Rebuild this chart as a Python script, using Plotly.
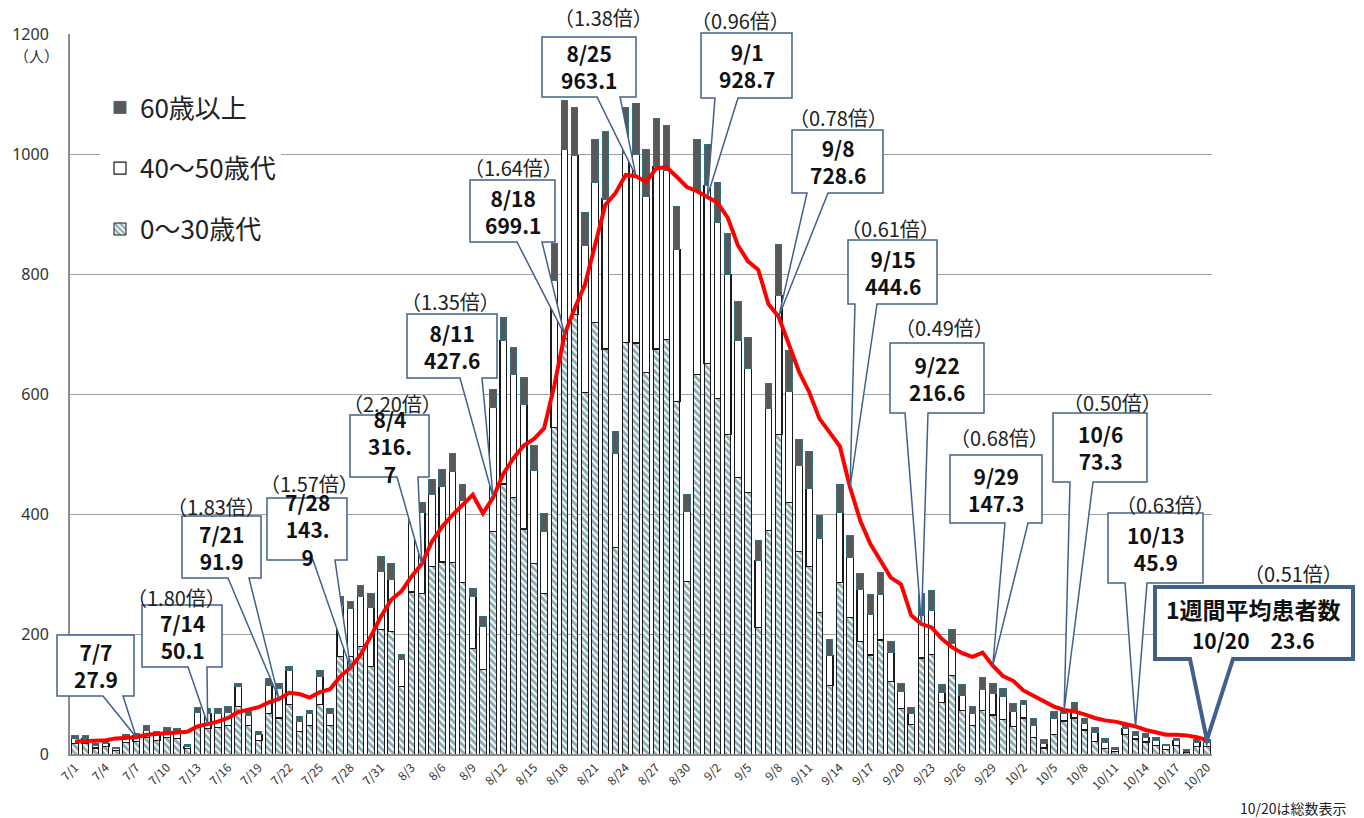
import plotly.graph_objects as go

# ---------------- data ----------------
dates = [f"{m}/{d}" for m, n in ((7, 31), (8, 31), (9, 30), (10, 20)) for d in range(1, n + 1)]

age_0_30 = [18, 17, 10, 13, 6, 19, 21, 28, 22, 27, 26, 9, 45, 42, 44, 48, 79, 48, 22, 68,
            60, 82, 37, 48, 82, 48, 162, 162, 179, 146, 207,
            204, 113, 270, 268, 312, 320, 319, 286, 176, 141, 371, 450, 428, 375, 318, 268, 544, 693, 732, 603,
            719, 675, 344, 686, 685, 636, 675, 691, 588, 288, 633,
            651, 593, 533, 461, 436, 211, 373, 533, 419, 338, 312, 236, 114, 286, 227, 187, 165, 190, 121, 76,
            49, 160, 166, 86, 131, 72, 47, 73, 65, 58,
            46, 60, 27, 10, 32, 55, 60, 40, 21, 9, 4, 32, 25, 20, 14, 8, 14, 2, 12, 12]

age_40_50 = [8, 9, 5, 5, 3, 8, 9, 12, 10, 11, 11, 4, 24, 26, 24, 22, 33, 17, 10, 47,
             50, 58, 17, 19, 47, 20, 85, 81, 84, 98, 97,
             87, 44, 115, 135, 120, 126, 152, 137, 86, 71, 207, 239, 204, 207, 154, 103, 245, 315, 266, 245,
             234, 250, 157, 315, 314, 294, 304, 281, 253, 117, 305,
             297, 293, 266, 228, 207, 112, 203, 231, 186, 143, 130, 124, 50, 117, 101, 88, 68, 76, 48, 28,
             19, 71, 74, 17, 53, 25, 21, 34, 36, 38,
             25, 22, 20, 8, 28, 13, 12, 11, 15, 10, 3, 11, 6, 8, 8, 6, 8, 2, 8, 8]

age_60_plus = [5, 5, 3, 3, 2, 5, 5, 8, 5, 6, 6, 3, 9, 8, 8, 9, 6, 6, 5, 11,
               8, 6, 8, 5, 10, 8, 15, 11, 18, 23, 26,
               26, 9, 20, 17, 25, 29, 30, 27, 14, 17, 29, 39, 46, 46, 43, 30, 62, 81, 79, 55,
               72, 112, 37, 77, 86, 77, 81, 76, 71, 27, 86,
               68, 67, 69, 65, 52, 33, 42, 85, 68, 44, 63, 37, 27, 47, 37, 26, 33, 36, 18, 14,
               9, 36, 32, 13, 23, 19, 11, 21, 17, 14,
               13, 8, 12, 7, 11, 4, 14, 9, 9, 7, 4, 4, 7, 6, 6, 2, 4, 3, 4, 4]

weekly_avg = [21, 22, 22, 23, 26, 27, 27.9, 32, 33, 35, 36, 37, 46, 50.1, 54, 60, 70, 74, 78, 86,
              91.9, 102, 100, 94, 103, 108, 129, 143.9, 165, 196, 229,
              257, 271, 296, 316.7, 354, 379, 398, 415, 432, 401, 427.6, 467, 493, 514, 525, 543, 614, 699.1, 743, 782,
              850, 915, 935, 965, 963.1, 953, 976, 978, 962, 945, 938,
              928.7, 919, 894, 848, 821, 807, 750, 728.6, 683, 637, 603, 559, 536, 513, 444.6, 389, 350, 322, 294, 283,
              231, 216.6, 211, 192, 178, 168, 162, 169, 147.3, 130,
              122, 106, 97, 88, 79, 73.3, 71, 66, 60, 56, 54, 50, 45.9, 40, 36, 32, 32, 31, 28, 23.6]

callout_dates = ["7/7", "7/14", "7/21", "7/28", "8/4", "8/11", "8/18", "8/25", "9/1", "9/8",
                 "9/15", "9/22", "9/29", "10/6", "10/13", "10/20"]
callout_values = [27.9, 50.1, 91.9, 143.9, 316.7, 427.6, 699.1, 963.1, 928.7, 728.6,
                  444.6, 216.6, 147.3, 73.3, 45.9, 23.6]
callout_value_text = ["27.9", "50.1", "91.9", "143.<br>9", "316.<br>7", "427.6", "699.1", "963.1", "928.7", "728.6",
                      "444.6", "216.6", "147.3", "73.3", "45.9", "23.6"]
ratios = [None, "1.80", "1.83", "1.57", "2.20", "1.35", "1.64", "1.38", "0.96", "0.78",
          "0.61", "0.49", "0.68", "0.50", "0.63", "0.51"]

y_ticks = [0, 200, 400, 600, 800, 1000, 1200]
x_tick_labels = dates[::3]

# ---------------- layout (pixel positions of callouts) ----------------
W, H = 1364, 818
L, R, T, B = 70, 1212, 34, 754
YMAX = 1200

# box: x0, x1, y0(top), y1(bottom); wedge base x0, x1; ratio label centre
boxes = [(57, 134, 635, 696), (142, 222, 605, 667), (182, 261, 516, 578), (267, 347, 498, 560),
         (350, 429, 415, 477), (407, 497, 314, 378), (470, 555, 180, 242), (542, 636, 37, 97),
         (701, 792, 33, 98), (792, 883, 130, 193), (848, 937, 240, 304), (890, 984, 343, 413),
         (950, 1042, 455, 523), (1053, 1147, 413, 482), (1108, 1203, 513, 583), (1155, 1353, 587, 659)]
wedges = [(103, 123), (188, 207), (228, 249), (313, 335), (397, 418), (460, 482), (517, 542), (597, 620),
          (715, 738), (807, 828), (855, 877), (905, 928), (1005, 1028), (1070, 1093), (1125, 1147), (1190, 1233)]
ratio_pos = [None, (176, 597), (216, 506), (309, 483), (392, 404), (450, 301), (513, 167), (603, 17),
             (740, 20), (838, 117), (890, 228), (945, 327), (999, 437), (1112, 403), (1165, 504), (1293, 573)]

FONT = "Noto Sans CJK JP"
BORDER = "#41618B"


def pxx(x):
    return (x - L) / (R - L)


def pxy(y):
    return (B - y) / (B - T)


fig = go.Figure()

fig.add_trace(go.Bar(
    x=dates, y=age_0_30, name="0～30歳代", legendgroup="a", legendrank=3,
    marker=dict(color="white", line=dict(color="#1a1a1a", width=1),
                pattern=dict(shape="\\", fgcolor="#1F5A6A", bgcolor="white", size=5, solidity=0.6)),
))
fig.add_trace(go.Bar(
    x=dates, y=age_40_50, name="40～50歳代", legendgroup="b", legendrank=2,
    marker=dict(color="white", line=dict(color="#1a1a1a", width=1.2)),
))
fig.add_trace(go.Bar(
    x=dates, y=age_60_plus, name="60歳以上", legendgroup="c", legendrank=1,
    marker=dict(color="#585858", line=dict(color="#346F7E", width=1)),
))
fig.add_trace(go.Scatter(
    x=dates, y=weekly_avg, mode="lines", line=dict(color="#FF0000", width=4),
    showlegend=False, name="1週間平均",
))

shapes = []
annotations = []
n = len(dates)
for i, d in enumerate(callout_dates):
    idx = dates.index(d)
    tx = (idx + 0.5) / n
    ty = callout_values[i] / YMAX
    x0, x1, y0, y1 = boxes[i]
    w0, w1 = wedges[i]
    pts = [(pxx(x0), pxy(y0)), (pxx(x1), pxy(y0)), (pxx(x1), pxy(y1)), (pxx(w1), pxy(y1)),
           (tx, ty), (pxx(w0), pxy(y1)), (pxx(x0), pxy(y1))]
    path = "M " + " L ".join(f"{a:.5f},{b:.5f}" for a, b in pts) + " Z"
    big = (i == len(callout_dates) - 1)
    shapes.append(dict(type="path", xref="paper", yref="paper", path=path, layer="above",
                       fillcolor="white", line=dict(color=BORDER, width=4 if big else 1.5)))
    cx = pxx((x0 + x1) / 2)
    cy = pxy((y0 + y1) / 2)
    if big:
        txt = f"<b>1週間平均患者数</b><br><span style='font-size:21px'><b>{d}　{callout_value_text[i]}</b></span>"
        annotations.append(dict(x=cx, y=cy, xref="paper", yref="paper", text=txt, showarrow=False,
                                xanchor="center", yanchor="middle",
                                font=dict(size=23, family=FONT, color="#111")))
    else:
        txt = f"<b>{d}<br>{callout_value_text[i]}</b>"
        annotations.append(dict(x=cx, y=cy, xref="paper", yref="paper", text=txt, showarrow=False,
                                xanchor="center", yanchor="middle",
                                font=dict(size=21, family=FONT, color="#111")))
    if ratios[i] is not None:
        rx, ry = ratio_pos[i]
        annotations.append(dict(x=pxx(rx), y=pxy(ry), xref="paper", yref="paper",
                                text=f"（{ratios[i]}倍）", showarrow=False,
                                xanchor="center", yanchor="middle",
                                font=dict(size=20, family=FONT, color="#222")))

annotations.append(dict(x=pxx(36), y=pxy(55), xref="paper", yref="paper", text="（人）", showarrow=False,
                        xanchor="center", yanchor="middle",
                        font=dict(size=15, family=FONT, color="#333")))
annotations.append(dict(x=pxx(1293), y=pxy(808), xref="paper", yref="paper", text="10/20は総数表示",
                        showarrow=False, xanchor="center", yanchor="middle",
                        font=dict(size=14, family=FONT, color="#222")))

fig.update_layout(
    width=W, height=H, autosize=False,
    margin=dict(l=L, r=W - R, t=T, b=H - B),
    paper_bgcolor="white", plot_bgcolor="white",
    barmode="stack", bargap=0.36,
    font=dict(family=FONT, color="#333"),
    shapes=shapes, annotations=annotations,
    legend=dict(x=pxx(100), y=pxy(84), xanchor="left", yanchor="top",
                font=dict(size=26, family=FONT, color="#222"), bgcolor="white",
                traceorder="grouped", tracegroupgap=24, itemwidth=30),
    xaxis=dict(type="category", range=[-0.5, n - 0.5], tickmode="array",
               tickvals=x_tick_labels, ticktext=x_tick_labels, tickangle=-45,
               tickfont=dict(size=12, family=FONT, color="#333"),
               showline=True, linecolor="#8c8c8c", linewidth=2, showgrid=False, ticks=""),
    yaxis=dict(range=[0, YMAX], tickmode="array", tickvals=y_ticks, showgrid=True,
               gridcolor="#a0a0a0", gridwidth=1, showline=True, linecolor="#8c8c8c", linewidth=2,
               zeroline=False, ticks="", ticklabelstandoff=16,
               tickfont=dict(size=16, family="Noto Sans", color="#333")),
)

fig.write_html("out.html", config={"displayModeBar": False},
               post_script="document.body.style.margin='0';document.body.style.overflow='hidden';")
